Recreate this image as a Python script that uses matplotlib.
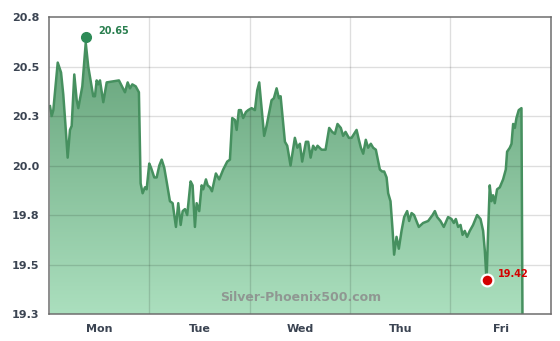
import numpy as np
import matplotlib.pyplot as plt
from matplotlib.colors import LinearSegmentedColormap
from matplotlib.patches import Polygon

# time in days from Monday 00:00, silver price
days = [0.010, 0.027, 0.043, 0.087, 0.120, 0.142, 0.166, 0.186, 0.209, 0.226,
        0.252, 0.276, 0.292, 0.332, 0.366, 0.391, 0.441, 0.458, 0.475, 0.491,
        0.508, 0.541, 0.575, 0.697, 0.757, 0.784, 0.807, 0.830, 0.864, 0.896,
        0.913, 0.933, 0.956, 0.973, 0.999, 1.016, 1.049, 1.073, 1.099, 1.123,
        1.148, 1.172, 1.205, 1.232, 1.265, 1.288, 1.312, 1.332, 1.355, 1.377,
        1.411, 1.431, 1.454, 1.471, 1.497, 1.521, 1.537, 1.564, 1.581, 1.604,
        1.624, 1.663, 1.696, 1.736, 1.776, 1.803, 1.826, 1.853, 1.870, 1.892,
        1.912, 1.935, 1.962, 1.985, 2.019, 2.052, 2.075, 2.095, 2.119, 2.144,
        2.168, 2.191, 2.218, 2.241, 2.268, 2.291, 2.308, 2.351, 2.374, 2.407,
        2.450, 2.475, 2.500, 2.523, 2.560, 2.583, 2.607, 2.632, 2.656, 2.676,
        2.716, 2.756, 2.792, 2.822, 2.849, 2.875, 2.908, 2.931, 2.955, 2.988,
        3.015, 3.065, 3.088, 3.108, 3.131, 3.157, 3.180, 3.207, 3.230, 3.257,
        3.297, 3.320, 3.340, 3.364, 3.380, 3.403, 3.423, 3.439, 3.463, 3.486,
        3.513, 3.539, 3.569, 3.589, 3.613, 3.638, 3.685, 3.728, 3.778, 3.822,
        3.845, 3.868, 3.901, 3.934, 3.977, 4.011, 4.034, 4.054, 4.077, 4.101,
        4.121, 4.143, 4.166, 4.193, 4.226, 4.266, 4.300, 4.326, 4.343, 4.360,
        4.376, 4.392, 4.409, 4.425, 4.442, 4.465, 4.492, 4.525, 4.552, 4.565,
        4.592, 4.609, 4.625, 4.642, 4.658, 4.681, 4.708, 4.718]
price = [20.30, 20.25, 20.28, 20.52, 20.47, 20.36, 20.19, 20.04, 20.18, 20.20,
         20.46, 20.33, 20.29, 20.40, 20.62, 20.50, 20.35, 20.35, 20.43, 20.41,
         20.43, 20.32, 20.42, 20.43, 20.37, 20.42, 20.39, 20.41, 20.40, 20.37,
         19.91, 19.86, 19.89, 19.88, 20.01, 19.99, 19.94, 19.94, 20.00, 20.03,
         19.99, 19.92, 19.82, 19.81, 19.69, 19.81, 19.70, 19.77, 19.78, 19.75,
         19.92, 19.90, 19.69, 19.81, 19.77, 19.90, 19.88, 19.93, 19.90, 19.89,
         19.87, 19.96, 19.93, 19.98, 20.02, 20.03, 20.24, 20.23, 20.18, 20.28,
         20.28, 20.24, 20.27, 20.28, 20.29, 20.28, 20.38, 20.42, 20.29, 20.15,
         20.20, 20.26, 20.33, 20.34, 20.39, 20.34, 20.35, 20.12, 20.10, 20.00,
         20.14, 20.09, 20.11, 20.02, 20.12, 20.12, 20.04, 20.10, 20.08, 20.10,
         20.08, 20.08, 20.19, 20.17, 20.16, 20.21, 20.19, 20.15, 20.17, 20.14,
         20.14, 20.18, 20.13, 20.09, 20.06, 20.13, 20.09, 20.11, 20.09, 20.08,
         19.98, 19.97, 19.97, 19.94, 19.86, 19.82, 19.68, 19.55, 19.64, 19.58,
         19.67, 19.74, 19.77, 19.72, 19.76, 19.75, 19.69, 19.71, 19.72, 19.75,
         19.77, 19.74, 19.72, 19.69, 19.74, 19.73, 19.71, 19.73, 19.69, 19.70,
         19.65, 19.67, 19.64, 19.67, 19.70, 19.75, 19.73, 19.67, 19.57, 19.42,
         19.67, 19.90, 19.82, 19.85, 19.81, 19.88, 19.89, 19.93, 19.98, 20.07,
         20.09, 20.11, 20.21, 20.19, 20.24, 20.28, 20.29, 19.25]

y_ticks = [19.25, 19.5, 19.75, 20.0, 20.25, 20.5, 20.75]
y_labels = ['19.3', '19.5', '19.8', '20.0', '20.3', '20.5', '20.8']
day_names = ['Mon', 'Tue', 'Wed', 'Thu', 'Fri']
high_day, high_val = 0.369, 20.65
low_day, low_val = 4.360, 19.42

ymin, ymax = 19.25, 20.75
label_color = '#3b4452'

fig = plt.figure(figsize=(5.6, 3.41), dpi=100)
ax = fig.add_axes([0.0875, 0.079, 0.896, 0.871])
ax.set_xlim(0, 5)
ax.set_ylim(ymin, ymax)

# area under the line with a vertical gradient
verts = [(days[0], ymin)] + list(zip(days, price)) + [(days[-1], ymin)]
poly = Polygon(verts, closed=True, facecolor='none', edgecolor='none')
ax.add_patch(poly)
cmap = LinearSegmentedColormap.from_list('silver_green', ['#abdfbe', '#5e9d73'])
grad = np.linspace(0, 1, 256).reshape(-1, 1)
im = ax.imshow(grad, extent=[0, 5, ymin, ymax], origin='lower', aspect='auto',
               cmap=cmap, zorder=1, interpolation='bilinear')
im.set_clip_path(poly)
ax.plot(days, price, color='#46905f', lw=1.8, zorder=3)

# grid on top of the fill
ax.set_yticks(y_ticks)
ax.set_yticklabels(y_labels, fontweight='bold')
ax.set_xticks([0.5, 1.5, 2.5, 3.5, 4.5])
ax.set_xticklabels(day_names, fontweight='bold')
ax.set_xticks([1, 2, 3, 4], minor=True)
ax.grid(False)
for y in y_ticks[1:-1]:
    ax.axhline(y, color='black', alpha=0.13, lw=1, zorder=2)
for x in [1, 2, 3, 4]:
    ax.axvline(x, color='black', alpha=0.13, lw=1, zorder=2)
ax.tick_params(axis='both', which='both', length=0, labelsize=8, labelcolor=label_color)
ax.tick_params(axis='y', pad=7)
ax.tick_params(axis='x', pad=7)
for s in ax.spines.values():
    s.set_color('#6e6e6e')
    s.set_linewidth(1.1)
    s.set_zorder(4)

# high / low markers
ax.plot(high_day, high_val, 'o', ms=7, color='#2e8b57', zorder=5)
ax.annotate(f'{high_val:.2f}', (high_day, high_val), xytext=(8.5, 4.5),
            textcoords='offset points', va='center', ha='left',
            fontsize=7, fontweight='bold', color='#2a7f4f', zorder=6)
ax.plot(low_day, low_val, 'o', ms=8.5, color='#d40000', mec='white', mew=1.6, zorder=5)
ax.annotate(f'{low_val:.2f}', (low_day, low_val), xytext=(8, 4.5),
            textcoords='offset points', va='center', ha='left',
            fontsize=7, fontweight='bold', color='#d40000', zorder=6)

ax.text(0.502, 0.055, 'Silver-Phoenix500.com', transform=ax.transAxes,
        ha='center', va='center', fontsize=9, fontweight='bold',
        color='#8c8c8c', alpha=0.85, zorder=6)

fig.savefig('out.png', dpi=100)
